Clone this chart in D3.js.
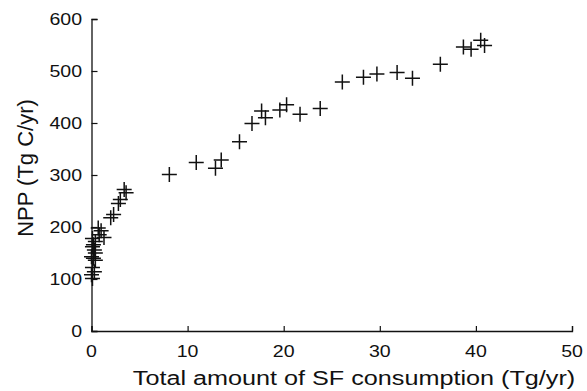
<!DOCTYPE html>
<html>
<head>
<meta charset="utf-8">
<script src="https://cdn.jsdelivr.net/npm/d3@7"></script>
<style>
  body { margin: 0; background: #fff; }
  svg { display: block; font-family: "Liberation Sans", Arial, sans-serif; }
</style>
</head>
<body>
<svg id="chart" width="587" height="391"></svg>
<script>
// SF consumption (Tg/yr) vs NPP (Tg C/yr)
var sfConsumption = [
  0.1, 0.0, 0.3, 0.1, 0.4, 0.2, 0.0, 0.4, 0.3, 0.1, 0.2, 0.4, 0.1,
  0.8, 1.3, 1.0, 0.7,
  2.0, 2.3, 2.8, 3.0, 3.4, 3.6,
  8.1, 10.9, 12.9, 13.5, 15.4,
  16.7, 17.7, 18.1, 19.6, 20.3, 21.7, 23.8,
  26.1, 28.3, 29.7, 31.8, 33.4,
  36.3, 38.7, 39.5, 40.5, 40.9
];
var npp = [
  101, 108, 114, 122, 136, 140, 143, 150, 156, 162, 166, 172, 178,
  185, 180, 193, 198,
  218, 224, 245, 253, 272, 266,
  301, 324, 313, 329, 364,
  399, 423, 410, 425, 435, 417, 428,
  479, 488, 494, 497, 486,
  513, 546, 542, 559, 549
];
var xTicks = [0, 10, 20, 30, 40, 50];
var yTicks = [0, 100, 200, 300, 400, 500, 600];

var svg = d3.select("#chart");
var x = d3.scaleLinear().domain([0, 50]).range([91.5, 572]);
var y = d3.scaleLinear().domain([0, 600]).range([331, 19]);

// axes with inward ticks, no frame
var xAxis = svg.append("g")
  .attr("transform", "translate(0," + y(0) + ")")
  .call(d3.axisTop(x).tickValues(xTicks).tickSize(5).tickFormat(""));
var yAxis = svg.append("g")
  .attr("transform", "translate(" + x(0) + ",0)")
  .call(d3.axisRight(y).tickValues(yTicks).tickSize(6).tickFormat(""));
[xAxis, yAxis].forEach(function(g) {
  g.select(".domain").attr("stroke", "#111").attr("stroke-width", 1.3);
  g.selectAll(".tick line").attr("stroke", "#111").attr("stroke-width", 1.2);
});

// tick labels (the figure is slightly stretched horizontally)
svg.append("g").selectAll("text").data(xTicks).enter()
  .append("text")
  .attr("transform", function(d) { return "translate(" + x(d) + ",357) scale(1.15,1)"; })
  .attr("text-anchor", "middle")
  .attr("font-size", 17)
  .attr("fill", "#111")
  .text(function(d) { return d; });

svg.append("g").selectAll("text").data(yTicks).enter()
  .append("text")
  .attr("transform", function(d) { return "translate(82," + (y(d) + 6) + ") scale(1.15,1)"; })
  .attr("text-anchor", "end")
  .attr("font-size", 17)
  .attr("fill", "#111")
  .text(function(d) { return d; });

// axis titles
svg.append("text")
  .attr("transform", "translate(354,385) scale(1.2,1)")
  .attr("text-anchor", "middle")
  .attr("font-size", 21)
  .attr("fill", "#111")
  .text("Total amount of SF consumption (Tg/yr)");

svg.append("text")
  .attr("transform", "translate(33,168) rotate(-90)")
  .attr("text-anchor", "middle")
  .attr("font-size", 22)
  .attr("fill", "#111")
  .text("NPP (Tg C/yr)");

// plus markers
var pts = d3.zip(sfConsumption, npp);
svg.append("g").selectAll("path").data(pts).enter()
  .append("path")
  .attr("transform", function(d) { return "translate(" + x(d[0]) + "," + y(d[1]) + ")"; })
  .attr("d", "M-7.5,0H7.5M0,-7.5V7.5")
  .attr("fill", "none")
  .attr("stroke", "#111")
  .attr("stroke-width", 1.5);
</script>
</body>
</html>
